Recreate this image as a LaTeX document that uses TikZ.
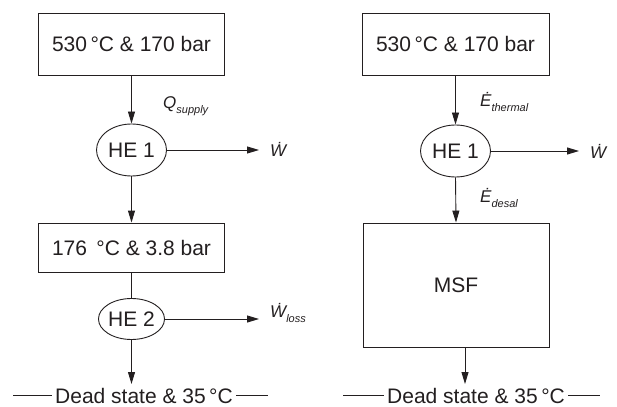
\documentclass[tikz,border=0pt]{standalone}
\usepackage{fontspec}
\setmainfont{Liberation Sans}
\usetikzlibrary{arrows.meta,shapes.geometric}
\definecolor{ink}{RGB}{35,31,32}
\newcommand\bigtxt{\fontsize{21}{24}\selectfont}
\newcommand\lbl[2]{{\fontsize{17}{20}\selectfont\itshape #1}\raisebox{-5pt}{\fontsize{11}{13}\selectfont\itshape #2}}
\begin{document}
\begin{tikzpicture}[x=1pt,y=-1pt,
  ln/.style={draw=ink, line width=0.9pt},
  stage/.style={draw=ink, line width=0.9pt, rectangle, inner sep=0pt, text=ink, font=\bigtxt},
  he/.style={draw=ink, line width=0.9pt, ellipse, inner sep=0pt, text=ink, font=\bigtxt},
  lab/.style={inner sep=0pt, text=ink, anchor=base west},
  arr/.style={ln, -{Triangle[length=12pt,width=7pt]}},
  plain/.style={inner sep=0pt, text=ink, font=\bigtxt}]
\fill[white] (0,0) rectangle (617,406);
\useasboundingbox (0,0) rectangle (617,406);

% ---------- left column ----------
\node[stage, minimum width=186pt, minimum height=62pt] (b1) at (131.5,44) {530\,°C \& 170 bar};
\node[he, minimum width=70pt, minimum height=52pt] (h1) at (131.5,150) {HE 1};
\node[stage, minimum width=186pt, minimum height=49pt] (b2) at (131.5,247.5) {176 \,°C \& 3.8 bar};
\node[he, minimum width=62pt, minimum height=41pt] (h2) at (131.5,319) {HE 2};
\node[plain] (d1) at (144,395.5) {Dead state \& 35\,°C};
\coordinate (t1) at (259,150);
\coordinate (t2) at (259,319);
\coordinate (e1) at (131.5,384);
\coordinate (l1) at (13,395);
\coordinate (r1) at (268,395);

\draw[arr] (b1.south) -- (h1.north);
\draw[arr] (h1.east) -- (t1);
\draw[arr] (h1.south) -- (b2.north);
\draw[ln] (b2.south) -- (h2.north);
\draw[arr] (h2.east) -- (t2);
\draw[arr] (h2.south) -- (e1);
\draw[ln] (l1) -- ([xshift=-3pt]d1.west |- l1);
\draw[ln] ([xshift=3pt]d1.east |- r1) -- (r1);

\node[lab] (q1) at (163,109) {\lbl{Q}{supply}};
\node[lab] (w1) at (270,157) {\lbl{\.{W}}{}};
\node[lab] (w2) at (270,317) {\lbl{\.{W}}{loss}};

% ---------- right column ----------
\node[stage, minimum width=187pt, minimum height=62pt] (b3) at (455.5,44) {530\,°C \& 170 bar};
\node[he, minimum width=70pt, minimum height=52pt] (h3) at (455.5,151) {HE 1};
\node[stage, minimum width=186pt, minimum height=124pt] (m1) at (456,285) {MSF};
\node[plain] (d2) at (476,395.5) {Dead state \& 35\,°C};
\coordinate (t3) at (579,151);
\coordinate (m1b) at (465,347);
\coordinate (e2) at (465,384);
\coordinate (l2) at (343,395);
\coordinate (r2) at (600,395);

\draw[arr] (b3.south) -- (h3.north);
\draw[arr] (h3.east) -- (t3);
\draw[arr] (h3.south) -- (m1.north);
\draw[arr] (m1b) -- (e2);
\draw[ln] (l2) -- ([xshift=-3pt]d2.west |- l2);
\draw[ln] ([xshift=3pt]d2.east |- r2) -- (r2);

\node[lab] (et) at (480,107) {\lbl{\.{E}}{thermal}};
\node[lab] (ed) at (480,202) {\lbl{\.{E}}{desal}};
\node[lab] (w3) at (590,158) {\lbl{\.{W}}{}};
\end{tikzpicture}
\end{document}
